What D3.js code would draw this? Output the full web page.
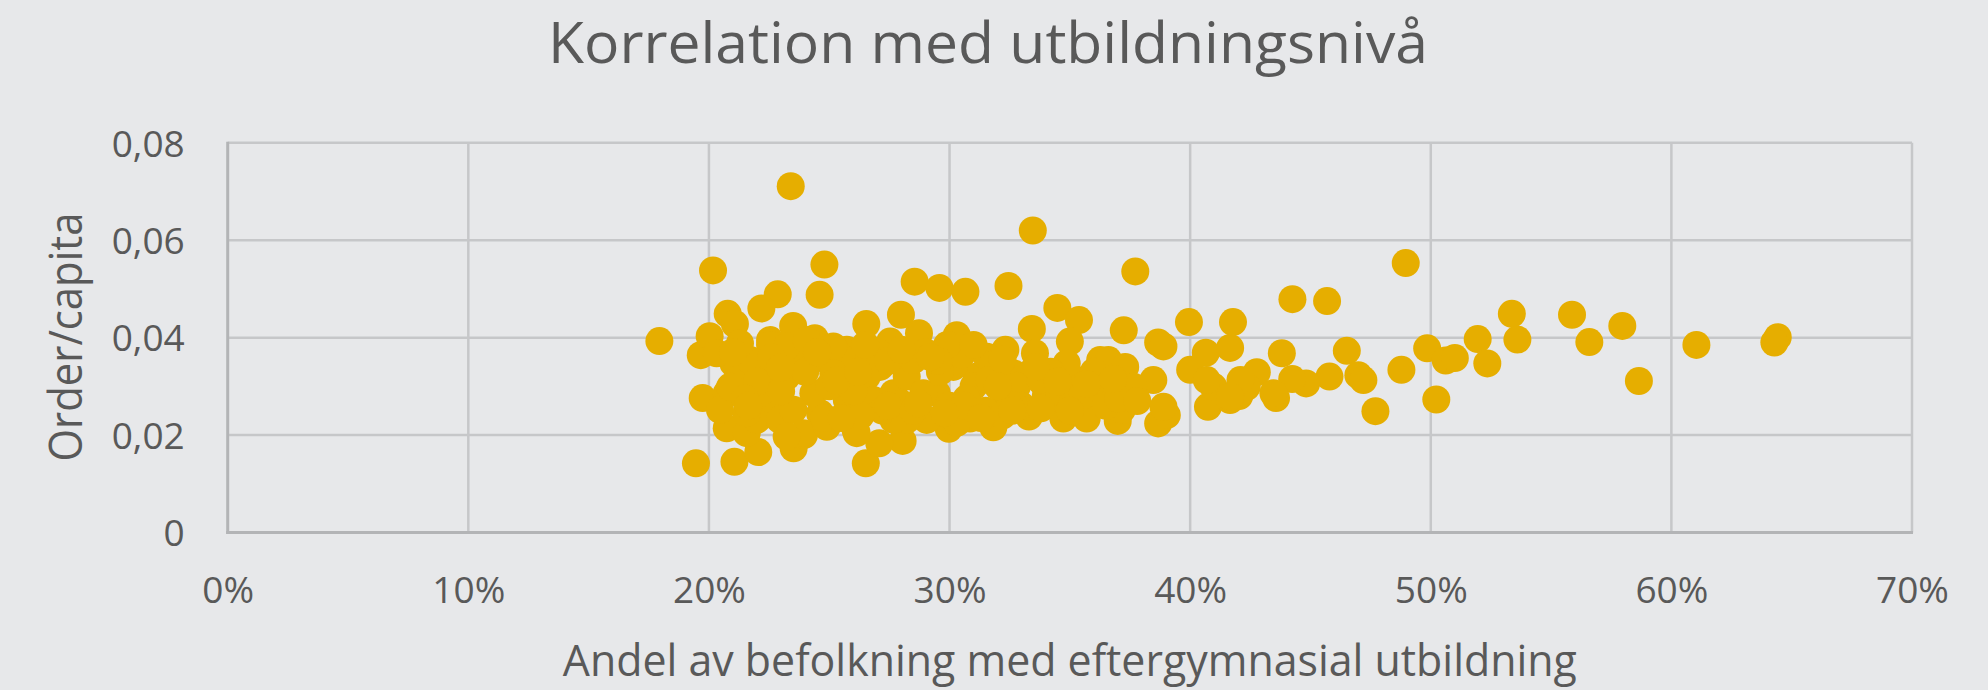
<html>

<head>
    <meta charset="utf-8">
    <title>Korrelation med utbildningsnivå</title>
    <style>
        body {
            margin: 0;
            background: #e7e8ea;
        }

        .tick text {
            font: 37px "Open Sans", sans-serif;
            fill: #595959;
        }

        .label {
            font-family: "Open Sans", sans-serif;
            fill: #595959;
        }
    </style>
</head>

<body>
    <script src="https://cdn.jsdelivr.net/npm/d3@7"></script>
    <script>
        const chartTitle = "Korrelation med utbildningsnivå";
        const xTitle = "Andel av befolkning med eftergymnasial utbildning";
        const yTitle = "Order/capita";

        const xTicks = [0, 0.1, 0.2, 0.3, 0.4, 0.5, 0.6, 0.7];
        const yTicks = [0, 0.02, 0.04, 0.06, 0.08];

        // andel med eftergymnasial utbildning, per kommun
        const eduShare = [
            0.2340, 0.3346, 0.2017, 0.2480, 0.2460, 0.1794, 0.1966, 0.1974, 0.1946, 0.2106,
            0.2205, 0.2352, 0.2652, 0.2855, 0.2958, 0.3066, 0.3245, 0.2286, 0.2218, 0.2078,
            0.2108, 0.2003, 0.2350, 0.2440, 0.2654, 0.2798, 0.2873, 0.2753, 0.3030, 0.3232,
            0.3342, 0.3448, 0.3538, 0.3500, 0.3355, 0.3626, 0.2254, 0.3182, 0.2997, 0.3330,
            0.3473, 0.3570, 0.2805, 0.2708, 0.2610, 0.2074, 0.2395, 0.3085, 0.3238, 0.3772,
            0.4896, 0.3724, 0.3995, 0.4178, 0.4425, 0.4569, 0.3867, 0.3889, 0.3660, 0.3730,
            0.4065, 0.4166, 0.4381, 0.4651, 0.4985, 0.5195, 0.5062, 0.5100, 0.5235, 0.4878,
            0.4699, 0.4720, 0.4579, 0.4482, 0.4424, 0.4277, 0.4235, 0.4204, 0.4357, 0.4346,
            0.4770, 0.5023, 0.4074, 0.4166, 0.4097, 0.4000, 0.3867, 0.3903, 0.3889, 0.3847,
            0.3764, 0.3699, 0.3716, 0.3612, 0.3529, 0.3265, 0.3460, 0.3390, 0.5337, 0.5587,
            0.5796, 0.5360, 0.5659, 0.5865, 0.6104, 0.6442, 0.6428, 0.4209, 0.4166, 0.4069,
            0.3487, 0.3238, 0.3113, 0.3335, 0.3016, 0.2947, 0.2905, 0.3155, 0.2254, 0.2102,
            0.2129, 0.2074, 0.2046, 0.2157, 0.2199, 0.2268, 0.2323, 0.2379, 0.2490, 0.2573,
            0.2600, 0.2545, 0.2462, 0.2392, 0.2295, 0.2212, 0.2171, 0.2323, 0.2434, 0.2614,
            0.2711, 0.2656, 0.2683, 0.2767, 0.2822, 0.2850, 0.2891, 0.2822, 0.2767, 0.2517,
            0.2406, 0.2129, 0.2032, 0.2088, 0.2157, 0.2268, 0.2351, 0.2517, 0.2573, 0.2490,
            0.2323, 0.3050, 0.3100, 0.3180, 0.3000, 0.3280, 0.3420, 0.3300, 0.3070, 0.3150,
            0.2960, 0.2900, 0.2990, 0.2800, 0.2720, 0.2630, 0.2500, 0.2400, 0.2200, 0.2150,
            0.2260, 0.2450, 0.2700, 0.2600, 0.2300, 0.2100, 0.3030, 0.3220, 0.3400, 0.3550,
            0.3650, 0.3500, 0.3600, 0.3700, 0.2530, 0.2745, 0.2953, 0.3165, 0.3270, 0.3377,
            0.3060, 0.2745, 0.2480, 0.2296, 0.2163, 0.2800, 0.2920, 0.2650, 0.3100, 0.3220,
            0.3360, 0.3450, 0.2550, 0.2850, 0.2980, 0.3130, 0.3260, 0.3380, 0.3570, 0.3680,
            0.3780, 0.2870, 0.2620, 0.3200
        ];

        // order per capita, samma ordning som eduShare
        const orderPerCapita = [
            0.0711, 0.0620, 0.0538, 0.0550, 0.0488, 0.0393, 0.0364, 0.0276, 0.0142, 0.0145,
            0.0165, 0.0173, 0.0142, 0.0515, 0.0502, 0.0494, 0.0506, 0.0489, 0.0460, 0.0449,
            0.0428, 0.0403, 0.0424, 0.0399, 0.0428, 0.0447, 0.0409, 0.0392, 0.0405, 0.0375,
            0.0418, 0.0461, 0.0436, 0.0392, 0.0368, 0.0354, 0.0395, 0.0216, 0.0213, 0.0238,
            0.0234, 0.0234, 0.0188, 0.0183, 0.0210, 0.0214, 0.0200, 0.0234, 0.0276, 0.0536,
            0.0553, 0.0415, 0.0432, 0.0432, 0.0479, 0.0475, 0.0390, 0.0382, 0.0354, 0.0340,
            0.0369, 0.0379, 0.0368, 0.0373, 0.0378, 0.0397, 0.0353, 0.0358, 0.0347, 0.0334,
            0.0323, 0.0313, 0.0320, 0.0306, 0.0315, 0.0329, 0.0299, 0.0280, 0.0276, 0.0286,
            0.0249, 0.0273, 0.0258, 0.0272, 0.0299, 0.0334, 0.0224, 0.0241, 0.0258, 0.0313,
            0.0299, 0.0229, 0.0252, 0.0299, 0.0313, 0.0327, 0.0272, 0.0306, 0.0449, 0.0447,
            0.0424, 0.0396, 0.0391, 0.0311, 0.0385, 0.0401, 0.0390, 0.0313, 0.0279, 0.0313,
            0.0347, 0.0286, 0.0320, 0.0327, 0.0340, 0.0286, 0.0231, 0.0361, 0.0385, 0.0347,
            0.0320, 0.0286, 0.0252, 0.0204, 0.0231, 0.0272, 0.0320, 0.0354, 0.0354, 0.0375,
            0.0354, 0.0299, 0.0245, 0.0204, 0.0231, 0.0286, 0.0354, 0.0382, 0.0286, 0.0204,
            0.0340, 0.0320, 0.0272, 0.0286, 0.0320, 0.0354, 0.0286, 0.0231, 0.0231, 0.0382,
            0.0395, 0.0388, 0.0368, 0.0299, 0.0245, 0.0327, 0.0252, 0.0327, 0.0272, 0.0217,
            0.0197, 0.0365, 0.0300, 0.0345, 0.0260, 0.0300, 0.0330, 0.0260, 0.0275, 0.0250,
            0.0330, 0.0370, 0.0385, 0.0265, 0.0250, 0.0240, 0.0300, 0.0330, 0.0310, 0.0275,
            0.0360, 0.0370, 0.0370, 0.0290, 0.0290, 0.0370, 0.0225, 0.0240, 0.0280, 0.0280,
            0.0260, 0.0250, 0.0330, 0.0275, 0.0312, 0.0352, 0.0352, 0.0313, 0.0260, 0.0313,
            0.0260, 0.0260, 0.0235, 0.0338, 0.0260, 0.0375, 0.0360, 0.0385, 0.0385, 0.0355,
            0.0340, 0.0310, 0.0235, 0.0250, 0.0245, 0.0235, 0.0250, 0.0255, 0.0305, 0.0315,
            0.0270, 0.0265, 0.0330, 0.0300
        ];

        var width = 1988,
            height = 690;

        // plot area in pixels
        var plotLeft = 227.7, plotRight = 1912, plotTop = 142.8, plotBottom = 532.5;

        var x = d3.scaleLinear().domain([0, 0.7]).range([plotLeft, plotRight]);
        var y = d3.scaleLinear().domain([0, 0.08]).range([plotBottom, plotTop]);

        var sv = d3.formatLocale({ decimal: ",", thousands: " ", grouping: [3], currency: ["", " kr"] });
        var yFmt = d => d === 0 ? "0" : sv.format(".2f")(d);

        var svg = d3.select("body").append("svg")
            .attr("width", width)
            .attr("height", height);

        svg.append("rect")
            .attr("width", width)
            .attr("height", height)
            .attr("fill", "#e7e8ea");

        // gridlines
        const grid = svg.append("g")
            .attr("stroke", "#c6c7c9")
            .attr("stroke-width", 2.5);

        grid.selectAll("line.h")
            .data(yTicks.filter(d => d > 0))
            .join("line")
            .attr("class", "h")
            .attr("x1", plotLeft).attr("x2", plotRight)
            .attr("y1", d => y(d)).attr("y2", d => y(d));

        grid.selectAll("line.v")
            .data(xTicks.filter(d => d > 0))
            .join("line")
            .attr("class", "v")
            .attr("x1", d => x(d)).attr("x2", d => x(d))
            .attr("y1", plotTop).attr("y2", plotBottom);

        // axis lines
        svg.append("line")
            .attr("x1", plotLeft).attr("x2", plotLeft)
            .attr("y1", plotTop - 1).attr("y2", plotBottom + 1.5)
            .attr("stroke", "#b3b4b6").attr("stroke-width", 3);
        svg.append("line")
            .attr("x1", plotLeft - 1.5).attr("x2", plotRight + 1)
            .attr("y1", plotBottom).attr("y2", plotBottom)
            .attr("stroke", "#b3b4b6").attr("stroke-width", 3);

        // tick labels
        const yAxis = svg.append("g")
            .attr("transform", `translate(${plotLeft},0)`)
            .call(d3.axisLeft(y).tickValues(yTicks).tickFormat(yFmt).tickSize(0).tickPadding(43));
        const xAxis = svg.append("g")
            .attr("transform", `translate(0,${plotBottom})`)
            .call(d3.axisBottom(x).tickValues(xTicks).tickFormat(d3.format(".0%")).tickSize(0).tickPadding(44));
        svg.selectAll(".domain").remove();
        svg.selectAll(".tick text").attr("font-family", null).attr("font-size", null).attr("fill", null);
        yAxis.selectAll(".tick text").attr("dy", "0.36em");

        // points
        const points = eduShare.map((v, i) => ({ share: v, orders: orderPerCapita[i] }));

        svg.append("g")
            .selectAll("circle")
            .data(points)
            .join("circle")
            .attr("cx", d => x(d.share))
            .attr("cy", d => y(d.orders))
            .attr("r", 14)
            .attr("fill", "#e6ae00");

        // titles
        svg.append("text")
            .attr("class", "label")
            .attr("x", 988)
            .attr("y", 63)
            .attr("text-anchor", "middle")
            .attr("font-size", 57)
            .attr("textLength", 880)
            .attr("lengthAdjust", "spacingAndGlyphs")
            .text(chartTitle);

        svg.append("text")
            .attr("class", "label")
            .attr("x", (plotLeft + plotRight) / 2)
            .attr("y", 676)
            .attr("text-anchor", "middle")
            .attr("font-size", 43)
            .attr("textLength", 1014)
            .attr("lengthAdjust", "spacingAndGlyphs")
            .text(xTitle);

        svg.append("text")
            .attr("class", "label")
            .attr("transform", "translate(82,337) rotate(-90)")
            .attr("text-anchor", "middle")
            .attr("font-size", 45)
            .attr("textLength", 249)
            .attr("lengthAdjust", "spacingAndGlyphs")
            .text(yTitle);
    </script>
</body>

</html>
